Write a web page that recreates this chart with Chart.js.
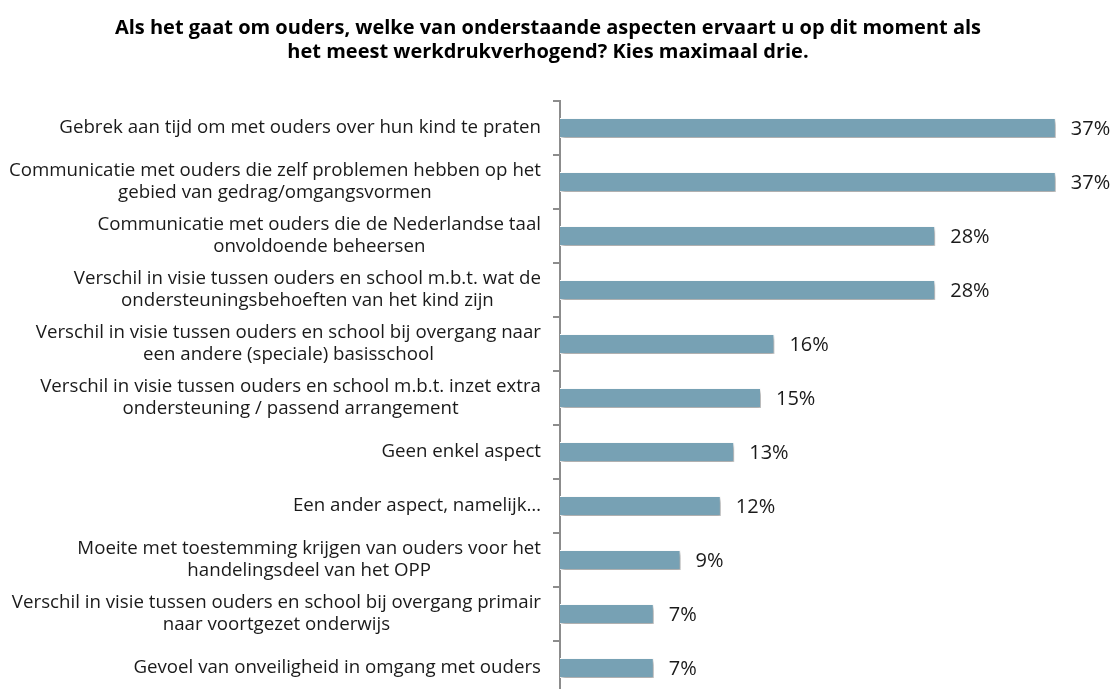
<!DOCTYPE html>
<html>
<head>
<meta charset="utf-8">
<script src="https://cdn.jsdelivr.net/npm/chart.js@4.4.1/dist/chart.umd.min.js"></script>
<style>
  html, body { margin: 0; padding: 0; background: #fff; overflow: hidden; }
  #wrap { width: 1116px; height: 700px; position: relative; }
</style>
</head>
<body>
<div id="wrap"><canvas id="chart"></canvas></div>
<script>
const titleLines = [
  'Als het gaat om ouders, welke van onderstaande aspecten ervaart u op dit moment als',
  'het meest werkdrukverhogend? Kies maximaal drie.'
];
const categories = [
  ['Gebrek aan tijd om met ouders over hun kind te praten'],
  ['Communicatie met ouders die zelf problemen hebben op het', 'gebied van gedrag/omgangsvormen'],
  ['Communicatie met ouders die de Nederlandse taal', 'onvoldoende beheersen'],
  ['Verschil in visie tussen ouders en school m.b.t. wat de', 'ondersteuningsbehoeften van het kind zijn'],
  ['Verschil in visie tussen ouders en school bij overgang naar', 'een andere (speciale) basisschool'],
  ['Verschil in visie tussen ouders en school m.b.t. inzet extra', 'ondersteuning / passend arrangement'],
  ['Geen enkel aspect'],
  ['Een ander aspect, namelijk…'],
  ['Moeite met toestemming krijgen van ouders voor het', 'handelingsdeel van het OPP'],
  ['Verschil in visie tussen ouders en school bij overgang primair', 'naar voortgezet onderwijs'],
  ['Gevoel van onveiligheid in omgang met ouders']
];
const values = [37, 37, 28, 28, 16, 15, 13, 12, 9, 7, 7];

const FONT = '"Open Sans", "Noto Sans", sans-serif';

// shadow under the bars
const shadowPlugin = {
  id: 'barShadow',
  beforeDatasetsDraw(chart) {
    const ctx = chart.ctx;
    ctx.save();
    ctx.shadowColor = 'rgba(0,0,0,0.35)';
    ctx.shadowBlur = 4;
    ctx.shadowOffsetX = 2;
    ctx.shadowOffsetY = 3;
  },
  afterDatasetsDraw(chart) {
    chart.ctx.restore();
  }
};

// category labels (centered lines, block right aligned) and value labels
const labelPlugin = {
  id: 'labels',
  afterDraw(chart) {
    const ctx = chart.ctx;
    const yScale = chart.scales.y;
    ctx.save();
    ctx.fillStyle = '#1a1a1a';
    ctx.font = '18.7px ' + FONT;
    ctx.textBaseline = 'middle';
    ctx.textAlign = 'center';
    const lh = 22;
    categories.forEach((lines, i) => {
      const yc = yScale.getPixelForValue(i);
      let maxW = 0;
      lines.forEach(l => { maxW = Math.max(maxW, ctx.measureText(l).width); });
      const cx = 541 - maxW / 2;
      lines.forEach((l, j) => {
        ctx.fillText(l, cx, yc + (j - (lines.length - 1) / 2) * lh);
      });
    });
    const meta = chart.getDatasetMeta(0);
    ctx.font = '20px ' + FONT;
    ctx.textAlign = 'left';
    meta.data.forEach((bar, i) => {
      ctx.fillText(values[i] + '%', bar.x + 15, bar.y + 1);
    });
    ctx.restore();
  }
};

new Chart(document.getElementById('chart'), {
  type: 'bar',
  data: {
    labels: categories,
    datasets: [{
      data: values,
      backgroundColor: '#77a1b4',
      borderColor: '#ffffff',
      borderWidth: 1,
      borderSkipped: 'start',
      barPercentage: 0.37,
      categoryPercentage: 1
    }]
  },
  options: {
    indexAxis: 'y',
    responsive: true,
    maintainAspectRatio: false,
    animation: false,
    layout: { padding: { top: 0, right: 20, bottom: 5, left: 0 } },
    plugins: {
      legend: { display: false },
      tooltip: { enabled: false },
      title: {
        display: true,
        text: titleLines,
        color: '#000',
        font: { family: FONT, size: 20, weight: 'bold', lineHeight: 1.2 },
        padding: { top: 16, bottom: 37 }
      }
    },
    scales: {
      x: {
        display: false,
        min: 0,
        max: 40
      },
      y: {
        offset: true,
        afterFit(scale) { scale.width = 560; },
        ticks: { display: false },
        grid: {
          offset: true,
          drawOnChartArea: false,
          drawTicks: true,
          tickLength: 7,
          color: '#8c8c8c',
          lineWidth: 2
        },
        border: { display: true, color: '#8c8c8c', width: 2 }
      }
    }
  },
  plugins: [shadowPlugin, labelPlugin]
});
</script>
</body>
</html>
